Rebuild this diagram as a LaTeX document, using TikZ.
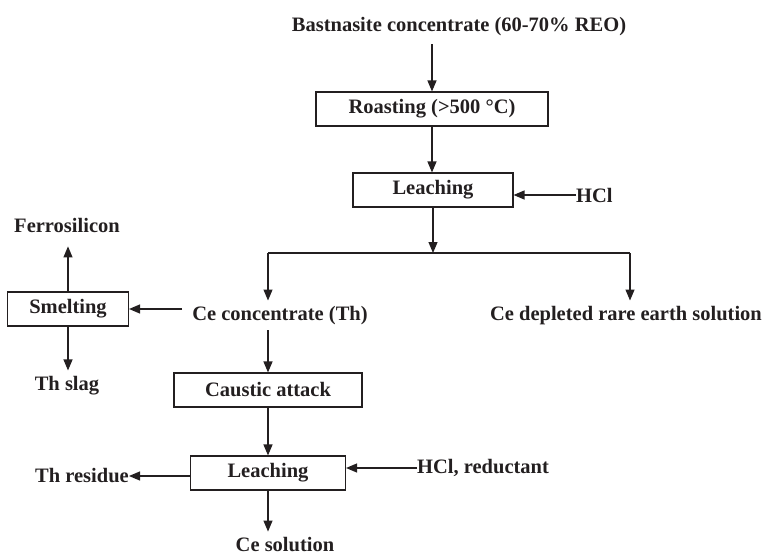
\documentclass[tikz,border=0pt]{standalone}
\usepackage{fontspec}
\setmainfont{Liberation Serif}
\usetikzlibrary{arrows.meta,calc}
\definecolor{ink}{HTML}{231F20}
\begin{document}
\begin{tikzpicture}[x=1pt,y=-1pt,
  lbl/.style={font=\fontsize{20.5}{24}\selectfont\bfseries, inner sep=0pt, text=ink},
  procbox/.style={draw=ink, line width=1.1pt, minimum height=34pt, inner sep=0pt, lbl},
  flow/.style={draw=ink, line width=1.2pt, -{Triangle[length=11pt,width=9pt]}},
  plain/.style={draw=ink, line width=1.2pt}]
\useasboundingbox (0,0) rectangle (765,556);

\node[lbl] (bast) at (459,27) {Bastnasite concentrate (60-70\% REO)};
\node[procbox, minimum width=232pt] (roast) at (432,109) {Roasting (>500 °C)};
\node[procbox, minimum width=160pt] (leach1) at (433,190) {Leaching};
\node[lbl, anchor=west] (hcl) at (576,195) {HCl};
\coordinate (split) at (433,253);
\coordinate (sl) at (268,253);
\coordinate (sr) at (630,253);
\node[lbl] (ceconc) at (280,316) {Ce concentrate (Th)};
\node[lbl] (cedep) at (626,316) {Ce depleted rare earth solution};
\node[procbox, minimum width=121pt] (smelt) at (68,309) {Smelting};
\node[lbl] (ferro) at (67,225) {Ferrosilicon};
\node[lbl] (thslag) at (67,386) {Th slag};
\node[procbox, minimum width=188pt] (caustic) at (268,390) {Caustic attack};
\node[procbox, minimum width=155pt] (leach2) at (268,473) {Leaching};
\node[lbl, anchor=west] (hclr) at (417,468) {HCl, reductant};
\node[lbl, anchor=east] (thres) at (129,476) {Th residue};
\node[lbl] (cesol) at (285,545) {Ce solution};

\draw[flow] ($(bast.south -| roast.north)+(0,8)$) -- (roast.north);
\draw[flow] (roast.south) -- (roast.south |- leach1.north);
\draw[flow] (hcl.west) -- (hcl.west -| leach1.east);
\draw[flow] (leach1.south) -- (split);
\draw[plain] (sl) -- (sr);
\draw[flow] (sl) -- ($(sl |- ceconc.north)+(0,-6)$);
\draw[flow] (sr) -- ($(sr |- cedep.north)+(0,-6)$);
\coordinate (cw) at ($(ceconc.west)+(-10,-7)$);
\draw[flow] (cw) -- (cw -| smelt.east);
\draw[flow] (smelt.north) -- ($(smelt.north |- ferro.south)+(0,14)$);
\draw[flow] (smelt.south) -- ($(smelt.south |- thslag.north)+(0,-6)$);
\draw[flow] ($(ceconc.south -| caustic.north)+(0,5)$) -- (caustic.north);
\draw[flow] (caustic.south) -- (caustic.south |- leach2.north);
\draw[flow] (hclr.west) -- (hclr.west -| leach2.east);
\draw[flow] (leach2.west |- thres.east) -- (thres.east);
\draw[flow] (leach2.south) -- ($(leach2.south |- cesol.north)+(0,-6)$);
\end{tikzpicture}
\end{document}
